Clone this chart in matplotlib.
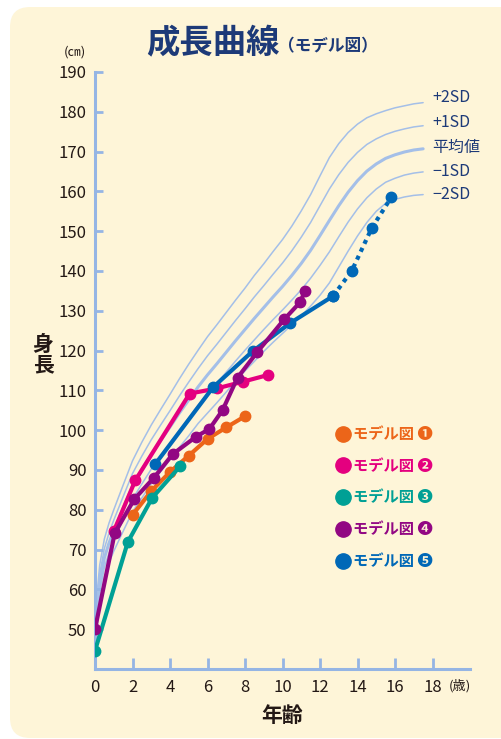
import matplotlib.pyplot as plt
from matplotlib.patches import FancyBboxPatch
from matplotlib.lines import Line2D

plt.rcParams['font.family'] = ['Noto Sans CJK JP', 'DejaVu Sans']

# standard growth curves (boys), height in cm by age
ages = [0, 0.25, 0.5, 0.75, 1, 1.5, 2, 2.5, 3, 3.5, 4, 4.5, 5, 5.5, 6, 6.5, 7, 7.5,
        8, 8.5, 9, 9.5, 10, 10.5, 11, 11.5, 12, 12.5, 13, 13.5, 14, 14.5, 15, 15.5,
        16, 16.5, 17, 17.5]
sd_p2 = [53.2, 66.1, 72.7, 76.7, 80.0, 86.2, 92.3, 97.0, 101.3, 105.2, 109.0, 112.9,
         116.6, 120.1, 123.5, 126.5, 129.6, 132.7, 135.7, 138.9, 141.8, 144.9, 147.9,
         151.3, 155.1, 159.2, 163.9, 168.5, 172.0, 174.8, 176.9, 178.5, 179.5, 180.3,
         181.0, 181.5, 182.0, 182.3]
sd_p1 = [51.1, 63.8, 70.3, 74.2, 77.4, 83.3, 89.1, 93.5, 97.6, 101.3, 104.9, 108.6,
         112.1, 115.5, 118.7, 121.6, 124.6, 127.6, 130.5, 133.5, 136.3, 139.2, 142.0,
         145.1, 148.5, 152.2, 156.4, 160.6, 164.2, 167.3, 169.8, 171.8, 173.2, 174.3,
         175.1, 175.7, 176.2, 176.5]
mean = [49.0, 61.5, 67.9, 71.7, 74.8, 80.4, 85.9, 90.0, 93.9, 97.4, 100.8, 104.3,
        107.6, 110.9, 113.9, 116.7, 119.6, 122.5, 125.3, 128.1, 130.8, 133.5, 136.1,
        138.9, 141.9, 145.2, 148.9, 152.7, 156.4, 159.8, 162.7, 165.1, 166.9, 168.3,
        169.2, 169.9, 170.4, 170.7]
sd_m1 = [46.9, 59.2, 65.5, 69.2, 72.2, 77.5, 82.7, 86.5, 90.2, 93.5, 96.7, 100.0,
         103.1, 106.3, 109.1, 111.8, 114.6, 117.4, 120.1, 122.7, 125.3, 127.8, 130.2,
         132.7, 135.3, 138.2, 141.4, 144.8, 148.6, 152.3, 155.6, 158.4, 160.6, 162.3,
         163.3, 164.1, 164.6, 164.9]
sd_m2 = [44.8, 56.9, 63.1, 66.7, 69.6, 74.6, 79.5, 83.0, 86.5, 89.6, 92.6, 95.7,
         98.6, 101.7, 104.3, 106.9, 109.6, 112.3, 114.9, 117.3, 119.8, 122.1, 124.3,
         126.5, 128.7, 131.2, 133.9, 137.0, 141.0, 145.0, 148.8, 152.2, 155.0, 157.0,
         158.0, 158.6, 159.0, 159.2]
curve_labels = ['+2SD', '+1SD', '平均値', '−1SD', '−2SD']

# model cases
m1_age = [2, 3, 4, 5, 6, 7, 8]
m1_h = [78.7, 84.7, 89.5, 93.6, 97.8, 100.7, 103.5]
m2_age = [1, 2.15, 5.05, 6.5, 7.9, 9.25]
m2_h = [74.6, 87.4, 109.2, 110.5, 112.2, 113.9]
m3_age = [0, 1.75, 3.05, 4.55]
m3_h = [44.6, 71.9, 83.0, 91.0]
m4_age = [0, 1.05, 2.1, 3.15, 4.15, 5.4, 6.1, 6.8, 7.6, 8.65, 10.1, 10.95, 11.2]
m4_h = [50.0, 74.1, 82.7, 88.1, 94.0, 98.4, 100.3, 105.0, 113.2, 119.6, 127.9, 132.2, 135.1]
m5_age = [3.2, 6.3, 8.4, 10.4, 12.7]
m5_h = [91.4, 110.8, 119.8, 126.9, 133.7]
m5_est_age = [12.7, 13.7, 14.75, 15.8]
m5_est_h = [133.7, 140.1, 150.7, 158.5]

legend_labels = ['モデル図 ❶', 'モデル図 ❷', 'モデル図 ❸', 'モデル図 ❹', 'モデル図 ❺']
colors = ['#EC6519', '#E4007F', '#00A095', '#920783', '#0068B7']

navy = '#1D3A78'
axis_c = '#95B5E4'
curve_c = '#A4BFE8'
dark = '#231815'

fig = plt.figure(figsize=(5.02, 7.39), dpi=100, facecolor='white')
bg = FancyBboxPatch((10 / 502, 1 / 739), 1.2, 731 / 739,
                    boxstyle='round,pad=0,rounding_size=0.04',
                    mutation_aspect=502 / 739,
                    transform=fig.transFigure, fc='#FEF5D8', ec='none', zorder=-5)
fig.patches.append(bg)

ax = fig.add_axes([95 / 502, 70 / 739, 375 / 502, 597 / 739])
ax.set_facecolor('none')
ax.set_xlim(0, 20)
ax.set_ylim(40, 190)
for s in ['top', 'right']:
    ax.spines[s].set_visible(False)
for s in ['left', 'bottom']:
    ax.spines[s].set_color(axis_c)
    ax.spines[s].set_linewidth(2.2)
ax.set_xticks(range(0, 19, 2))
ax.set_yticks(range(50, 191, 10))
ax.tick_params(axis='x', direction='in', length=8, width=2, color=axis_c,
               labelsize=12, labelcolor=dark, pad=7)
ax.tick_params(axis='y', direction='in', length=6, width=2, color=axis_c,
               labelsize=12, labelcolor=dark, pad=6)

# SD curves
curves = [sd_p2, sd_p1, mean, sd_m1, sd_m2]
label_dy = [1.4, 0.9, 0.4, 0.2, 0.1]
for ys, lab, dy in zip(curves, curve_labels, label_dy):
    lw = 2.2 if lab == '平均値' else 1.1
    ax.plot(ages, ys, color=curve_c, lw=lw, zorder=1, solid_capstyle='round')
    ax.text(17.97, ys[-1] + dy, lab, ha='left', va='center', fontsize=11.5, color=navy)

# model lines
kw = dict(lw=3, ms=7.5, marker='o', solid_capstyle='round')
ax.plot(m1_age, m1_h, color=colors[0], zorder=3, **kw)
ax.plot(m3_age, m3_h, color=colors[2], zorder=3, **kw)
ax.plot(m2_age, m2_h, color=colors[1], zorder=4, **kw)
ax.plot(m5_est_age, m5_est_h, color=colors[4], lw=3, ls=(0, (1, 1.1)),
        marker='o', ms=7.5, zorder=5)
ax.plot(m5_age, m5_h, color=colors[4], zorder=5, **kw)
ax.plot(m4_age, m4_h, color=colors[3], zorder=6, **kw)

handles = [Line2D([], [], color=c, marker='o', ls='none', ms=11) for c in colors]
ax.legend(handles, legend_labels, loc='upper left',
          bbox_to_anchor=(337 / 502, 1 - 426 / 739), bbox_transform=fig.transFigure,
          frameon=False, handlelength=0.8, handletextpad=0.25, borderpad=0,
          borderaxespad=0, labelspacing=1.03, labelcolor='linecolor',
          prop={'size': 11, 'weight': 'bold'})

fig.text(146 / 502, 1 - 44 / 739, '成長曲線', fontsize=24, weight='bold',
         color=navy, ha='left', va='center')
fig.text(278 / 502, 1 - 46 / 739, '（モデル図）', fontsize=12, weight='bold',
         color=navy, ha='left', va='center')
fig.text(75 / 502, 1 - 52 / 739, '(㎝)', fontsize=9.5, color=dark, ha='center', va='center')
fig.text(460 / 502, 1 - 686 / 739, '(歳)', fontsize=9.5, color=dark, ha='center', va='center')
fig.text(43 / 502, 1 - 355 / 739, '身\n長', fontsize=15, weight='bold', color=dark,
         ha='center', va='center', linespacing=0.95)
fig.text(282 / 502, 1 - 715 / 739, '年齢', fontsize=15, weight='bold', color=dark,
         ha='center', va='center')

fig.savefig('out.png', dpi=100, facecolor='white')
